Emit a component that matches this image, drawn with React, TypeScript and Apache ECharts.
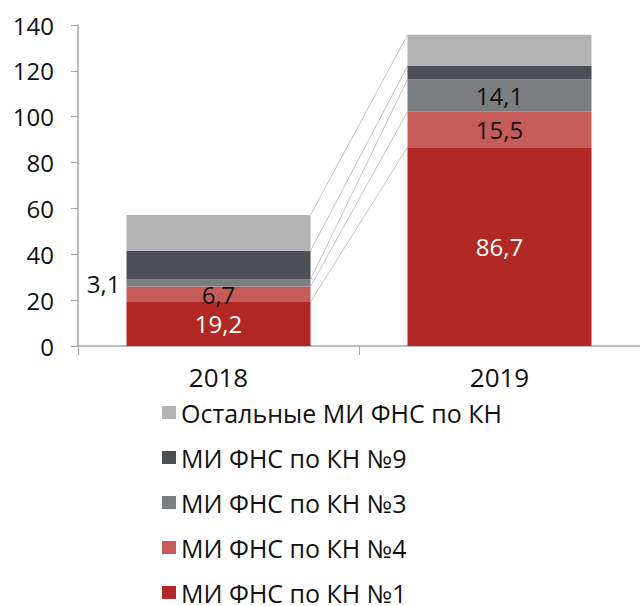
import React, { useEffect, useRef } from "react";
import * as echarts from "echarts";

const years = ["2018", "2019"];
const kn1 = [19.2, 86.7];
const kn4 = [6.7, 15.5];
const kn3 = [3.1, 14.1];
const kn9 = [12.5, 5.8];
const others = [15.6, 13.6];
const yTicks = { min: 0, max: 140, interval: 20 };

const names = [
  "МИ ФНС по КН №1",
  "МИ ФНС по КН №4",
  "МИ ФНС по КН №3",
  "МИ ФНС по КН №9",
  "Остальные МИ ФНС по КН",
];
const colors = ["#B22824", "#C65C5A", "#7B7E81", "#4C5054", "#B3B3B3"];

const FONT = "Open Sans";
const BAR_W = 184;

export default function App() {
  const ref = useRef<HTMLDivElement>(null);
  useEffect(() => {
    if (!ref.current) return;
    const chart = echarts.init(ref.current, null, { renderer: "svg" });
    const seriesData = [kn1, kn4, kn3, kn9, others];
    const fmt = (v: number) => String(v).replace(".", ",");

    const labelFor = (si: number, di: number) => {
      if (si === 0) return { show: true, position: "inside", color: "#fff" };
      if (si === 1) return { show: true, position: "inside", color: "#111" };
      if (si === 2)
        return di === 0
          ? { show: true, position: "left", color: "#111", distance: 6 }
          : { show: true, position: "inside", color: "#111" };
      return { show: false };
    };

    const bars = seriesData.map((arr, si) => ({
      name: names[si],
      type: "bar",
      stack: "total",
      barWidth: BAR_W,
      itemStyle: { color: colors[si] },
      data: arr.map((v, di) => ({
        value: v,
        label: {
          ...labelFor(si, di),
          fontSize: 24,
          lineHeight: 24,
          fontFamily: FONT,
          formatter: (p: any) => fmt(p.value),
        },
      })),
    }));

    // cumulative tops for connectors
    const connectors: number[][] = [];
    let c0 = 0;
    let c1 = 0;
    seriesData.forEach((arr) => {
      c0 += arr[0];
      c1 += arr[1];
      connectors.push([0, c0, c1]);
    });

    const option: any = {
      animation: false,
      grid: { left: 78, right: -10, top: 25, bottom: 260 },
      legend: {
        orient: "vertical",
        left: 162,
        top: 400,
        height: 300,
        padding: 0,
        itemWidth: 14,
        itemHeight: 13,
        itemGap: 20,
        icon: "rect",
        selectedMode: false,
        data: [names[4], names[3], names[2], names[1], names[0]],
        textStyle: { fontSize: 25, lineHeight: 25, fontFamily: FONT, color: "#111" },
      },
      xAxis: {
        type: "category",
        data: years,
        axisLine: { lineStyle: { color: "#A6A6A6", width: 1.5 } },
        axisTick: { show: true, length: 9, lineStyle: { color: "#A6A6A6" } },
        axisLabel: { fontSize: 26, fontFamily: FONT, color: "#111", margin: 18 },
      },
      yAxis: {
        type: "value",
        min: yTicks.min,
        max: yTicks.max,
        interval: yTicks.interval,
        axisLine: { show: true, lineStyle: { color: "#A6A6A6", width: 1.5 } },
        axisTick: { show: true, length: 7, lineStyle: { color: "#A6A6A6" } },
        splitLine: { show: false },
        axisLabel: { fontSize: 24, fontFamily: FONT, color: "#111", margin: 24 },
      },
      series: [
        ...bars,
        {
          type: "custom",
          name: "connectors",
          silent: true,
          encode: { x: 0, y: [1, 2] },
          data: connectors,
          z: 1,
          renderItem: (params: any, api: any) => {
            const p0 = api.coord([0, api.value(1)]);
            const p1 = api.coord([1, api.value(2)]);
            return {
              type: "line",
              shape: {
                x1: p0[0] + BAR_W / 2,
                y1: p0[1],
                x2: p1[0] - BAR_W / 2,
                y2: p1[1],
              },
              style: { stroke: "#C4C4C4", lineWidth: 1 },
            };
          },
        },
      ],
    };
    chart.setOption(option);
    return () => chart.dispose();
  }, []);
  return (
    <div
      ref={ref}
      style={{ position: "absolute", left: 0, top: 0, width: 640, height: 606 }}
    />
  );
}
